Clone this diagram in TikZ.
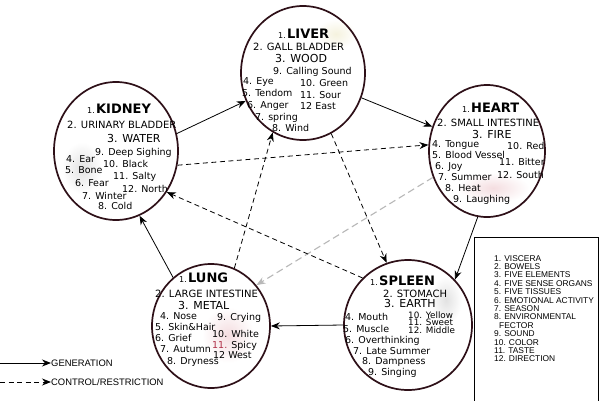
\documentclass[tikz,border=0pt]{standalone}
\usepackage{fontspec}
\setmainfont{DejaVu Sans}
\newfontfamily\legfont{Liberation Sans}
\usetikzlibrary{shapes.geometric,arrows.meta}
\definecolor{rimc}{HTML}{2E1018}
\definecolor{ctlgray}{HTML}{B8B8B8}
\definecolor{spicy}{HTML}{B03048}
\definecolor{blobpink}{HTML}{F4DDE0}
\definecolor{blobgray}{HTML}{E2E2E2}
\definecolor{blobyel}{HTML}{F5F2DE}
\tikzset{
  orb/.style={ellipse, draw=rimc, line width=1.7pt, fill=none, inner sep=0pt},
  body/.style={anchor=base west, inner sep=0pt, font=\fontsize{9.5}{11}\selectfont},
  small/.style={body, font=\fontsize{8.8}{10}\selectfont},
  organ/.style={body, font=\fontsize{10}{11}\selectfont},
  elem/.style={body, font=\fontsize{11}{12}\selectfont},
  ttl/.style={body},
  leg/.style={anchor=base west, inner sep=0pt, font=\legfont\fontsize{8.4}{8.4}\selectfont},
  legw/.style={anchor=base west, inner sep=0pt, font=\legfont\fontsize{9.4}{9.4}\selectfont},
  gen/.style={draw=black, line width=0.8pt, -{Stealth[length=9pt,width=7pt]}},
  ctl/.style={gen, dash pattern=on 5pt off 3.5pt},
  ctlg/.style={draw=ctlgray, line width=1.1pt, dash pattern=on 7pt off 4pt, -{Stealth[length=9pt,width=7pt]}},
}
\newcommand\ttlx[1]{{\fontsize{8}{8}\selectfont 1.\,}{\bfseries\fontsize{13}{13}\selectfont #1}}
\newcommand\blob[4]{\shade[inner color=#1, outer color=white] (#2) ellipse [x radius=#3, y radius=#4];}
\begin{document}
\begin{tikzpicture}[x=1pt,y=-1pt]
\useasboundingbox (0,0) rectangle (600,400);
\clip (0,0) rectangle (600,400);
\fill[white] (0,0) rectangle (600,400);

% faint background tints inside the circles
\blob{blobyel}{336,34}{20pt}{15pt}
\blob{blobgray}{82,168}{20pt}{26pt}
\blob{blobpink}{493,188}{36pt}{15pt}
\blob{blobpink}{228,335}{26pt}{28pt}
\blob{blobgray}{446,300}{16pt}{24pt}

% circles
\node[orb, minimum width=124pt, minimum height=134pt] (liver) at (303,73) {};
\node[orb, minimum width=124pt, minimum height=138pt] (kidney) at (116,151) {};
\node[orb, minimum width=116pt, minimum height=132pt] (heart) at (487,151) {};
\node[orb, minimum width=118pt, minimum height=124pt] (lung) at (211,326) {};
\node[orb, minimum width=128pt, minimum height=130pt] (spleen) at (408,325) {};

% generation
\draw[gen] (kidney.16) -- (liver.206);
\draw[gen] (liver.337) -- (heart.156);
\draw[gen] (heart.262) -- (spleen.44);
\draw[gen] (spleen.180) -- (lung.0);
\draw[gen] (lung.128) -- (kidney.290);
% control
\draw[ctl] (kidney.347) -- (heart.174);
\draw[ctlg] (heart.206) -- (lung.42);
\draw[ctl] (liver.295) -- (spleen.109);
\draw[ctl] (spleen.134) -- (kidney.321);
\draw[ctl] (lung.68) -- (liver.243);

% LIVER
\node[ttl] (lv1) at (278,38) {\ttlx{LIVER}};
\node[organ] (lv2) at (253,50) {2. GALL BLADDER};
\node[elem] (lv3) at (275,62) {3. WOOD};
\node[body] (lv9) at (273,74) {9. Calling Sound};
\node[body] (lv4) at (243,84) {4. Eye};
\node[body] (lv10) at (300,86) {10. Green};
\node[body] (lv5) at (242,96) {5. Tendom};
\node[body] (lv11) at (300,98) {11. Sour};
\node[body] (lv6) at (247,108) {6. Anger};
\node[body] (lv12) at (300,109) {12 East};
\node[body] (lv7) at (255,120) {7. spring};
\node[body] (lv8) at (272,131) {8. Wind};

% KIDNEY
\node[ttl] (kd1) at (87,113) {\ttlx{KIDNEY}};
\node[organ] (kd2) at (67,128) {2. URINARY BLADDER};
\node[elem] (kd3) at (107,142) {3. WATER};
\node[body] (kd9) at (95,155) {9. Deep Sighing};
\node[body] (kd4) at (66,162) {4. Ear};
\node[body] (kd10) at (103,167) {10. Black};
\node[body] (kd5) at (65,173) {5. Bone};
\node[body] (kd11) at (113,179) {11. Salty};
\node[body] (kd6) at (75,186) {6. Fear};
\node[body] (kd12) at (122,192) {12. North};
\node[body] (kd7) at (82,199) {7. Winter};
\node[body] (kd8) at (98,209) {8. Cold};

% HEART
\node[ttl] (ht1) at (462,112) {\ttlx{HEART}};
\node[organ] (ht2) at (437,126) {2. SMALL INTESTINE};
\node[elem] (ht3) at (472,138) {3. FIRE};
\node[body] (ht4) at (432,147) {4. Tongue};
\node[body] (ht10) at (507,149) {10. Red};
\node[body] (ht5) at (432,158) {5. Blood Vessel};
\node[body] (ht11) at (499,165) {11. Bitter};
\node[body] (ht6) at (435,169) {6. Joy};
\node[body] (ht12) at (497,178) {12. South};
\node[body] (ht7) at (438,180) {7. Summer};
\node[body] (ht8) at (445,191) {8. Heat};
\node[body] (ht9) at (453,202) {9. Laughing};

% LUNG
\node[ttl] (lg1) at (179,282) {\ttlx{LUNG}};
\node[organ] (lg2) at (155,297) {2. LARGE INTESTINE};
\node[elem] (lg3) at (178,309) {3. METAL};
\node[body] (lg4) at (160,319) {4. Nose};
\node[body] (lg9) at (217,320) {9. Crying};
\node[body] (lg5) at (155,330) {5. Skin\&Hair};
\node[body] (lg10) at (212,337) {10. White};
\node[body] (lg6) at (155,341) {6. Grief};
\node[body] (lg11) at (212,348) {\textcolor{spicy}{11.} Spicy};
\node[body] (lg7) at (160,352) {7. Autumn};
\node[body] (lg12) at (213,358) {12 West};
\node[body] (lg8) at (167,364) {8. Dryness};

% SPLEEN
\node[ttl] (sp1) at (370,285) {\ttlx{SPLEEN}};
\node[organ] (sp2) at (383,297) {2. STOMACH};
\node[elem] (sp3) at (384,307) {3. EARTH};
\node[small] (sp10) at (408,318) {10. Yellow};
\node[body] (sp4) at (345,320) {4. Mouth};
\node[small] (sp11) at (408,325.5) {11. Sweet};
\node[body] (sp5) at (343,332) {5. Muscle};
\node[small] (sp12) at (408,333) {12. Middle};
\node[body] (sp6) at (345,343) {6. Overthinking};
\node[body] (sp7) at (353,354) {7. Late Summer};
\node[body] (sp8) at (362,364.5) {8. Dampness};
\node[body] (sp9) at (368,375) {9. Singing};

% legend box
\draw[line width=0.8pt] (474,237) rectangle (598,403);
\node[leg] (k1) at (494,261) {1. VISCERA};
\node[leg] (k2) at (494,269.4) {2. BOWELS};
\node[leg] (k3) at (494,277.8) {3. FIVE ELEMENTS};
\node[leg] (k4) at (494,286.2) {4. FIVE SENSE ORGANS};
\node[leg] (k5) at (494,294.6) {5. FIVE TISSUES};
\node[leg] (k6) at (494,303) {6. EMOTIONAL ACTIVITY};
\node[leg] (k7) at (494,311.4) {7. SEASON};
\node[leg] (k8) at (494,319.8) {8. ENVIRONMENTAL};
\node[leg] (k8b) at (499,328.2) {FECTOR};
\node[leg] (k9) at (494,336.6) {9. SOUND};
\node[leg] (k10) at (494,345) {10. COLOR};
\node[leg] (k11) at (494,353.4) {11. TASTE};
\node[leg] (k12) at (494,361.8) {12. DIRECTION};

% arrow legend
\coordinate (g0) at (0,363);
\coordinate (c0) at (0,382);
\node[legw] (gtxt) at (51,366) {GENERATION};
\node[legw] (ctxt) at (51,385) {CONTROL/RESTRICTION};
\draw[gen] (g0) -- (gtxt.west |- g0);
\draw[ctl] (c0) -- (ctxt.west |- c0);
\end{tikzpicture}
\end{document}
